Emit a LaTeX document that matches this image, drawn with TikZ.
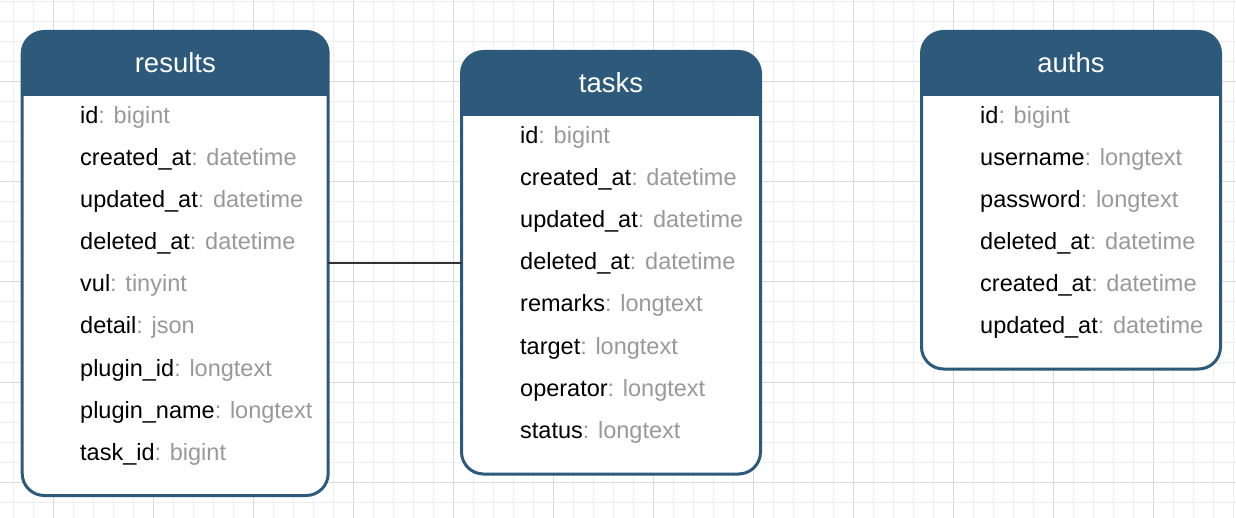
\documentclass[tikz,border=0pt]{standalone}
\usepackage{fontspec}
\setmainfont{Liberation Sans}
\definecolor{hdr}{HTML}{2D5A7B}
\definecolor{typegray}{HTML}{999999}
\definecolor{gridminor}{HTML}{EEEEEE}
\definecolor{gridmajor}{HTML}{DADADA}
\newcommand{\fldtxt}[2]{#1\textcolor{typegray}{: #2}}
\begin{document}
\begin{tikzpicture}[x=1pt,y=-1pt,
  tbl/.style={draw=hdr, line width=3pt, fill=white, rounded corners=22pt, rectangle, inner sep=0pt, outer sep=0pt, anchor=north west},
  fld/.style={anchor=base west, inner sep=0pt, font=\fontsize{23.5}{28}\selectfont},
  ttl/.style={anchor=base, inner sep=0pt, text=white, font=\fontsize{27.5}{32}\selectfont},
  conn/.style={draw=black!80, line width=2pt},
  gmin/.style={draw=gridminor, line width=1pt},
  gmaj/.style={draw=gridmajor, line width=1pt}]
\useasboundingbox (0,0) rectangle (1236,518);
\fill[white] (0,0) rectangle (1236,518);
% grid
\foreach \x in {13,33,...,1233} \draw[gmin] (\x,0) -- (\x,518);
\foreach \y in {2,22,...,502} \draw[gmin] (0,\y) -- (1236,\y);
\foreach \x in {53,153,...,1153} \draw[gmaj] (\x,0) -- (\x,518);
\foreach \y in {82,182,...,482} \draw[gmaj] (0,\y) -- (1236,\y);

% tables
\node[tbl, minimum width=306pt, minimum height=464pt] (results) at (22.2,31.5) {};
\node[tbl, minimum width=299pt, minimum height=422.5pt] (tasks) at (461.5,51.5) {};
\node[tbl, minimum width=299pt, minimum height=337.5pt] (auths) at (921.5,31.5) {};

% headers
\begin{scope}
\clip (0,0) rectangle (1236,96);
\fill[hdr, rounded corners=22pt] (results.north west) rectangle (results.south east);
\fill[hdr, rounded corners=22pt] (auths.north west) rectangle (auths.south east);
\end{scope}
\begin{scope}
\clip (0,0) rectangle (1236,116);
\fill[hdr, rounded corners=22pt] (tasks.north west) rectangle (tasks.south east);
\end{scope}

\node[ttl] (resultsT) at (175.3,73) {results};
\node[ttl] (tasksT) at (611,93) {tasks};
\node[ttl] (authsT) at (1071,73) {auths};

% results fields
\node[fld] (r1) at (80,124) {\fldtxt{id}{bigint}};
\node[fld] (r2) at (80,166) {\fldtxt{created\_at}{datetime}};
\node[fld] (r3) at (80,208) {\fldtxt{updated\_at}{datetime}};
\node[fld] (r4) at (80,250) {\fldtxt{deleted\_at}{datetime}};
\node[fld] (r5) at (80,292) {\fldtxt{vul}{tinyint}};
\node[fld] (r6) at (80,334) {\fldtxt{detail}{json}};
\node[fld] (r7) at (80,376) {\fldtxt{plugin\_id}{longtext}};
\node[fld] (r8) at (80,418) {\fldtxt{plugin\_name}{longtext}};
\node[fld] (r9) at (80,460) {\fldtxt{task\_id}{bigint}};

% tasks fields
\node[fld] (t1) at (520,144) {\fldtxt{id}{bigint}};
\node[fld] (t2) at (520,186) {\fldtxt{created\_at}{datetime}};
\node[fld] (t3) at (520,228) {\fldtxt{updated\_at}{datetime}};
\node[fld] (t4) at (520,270) {\fldtxt{deleted\_at}{datetime}};
\node[fld] (t5) at (520,312) {\fldtxt{remarks}{longtext}};
\node[fld] (t6) at (520,354) {\fldtxt{target}{longtext}};
\node[fld] (t7) at (520,396) {\fldtxt{operator}{longtext}};
\node[fld] (t8) at (520,438) {\fldtxt{status}{longtext}};

% auths fields
\node[fld] (a1) at (980,124) {\fldtxt{id}{bigint}};
\node[fld] (a2) at (980,166) {\fldtxt{username}{longtext}};
\node[fld] (a3) at (980,208) {\fldtxt{password}{longtext}};
\node[fld] (a4) at (980,250) {\fldtxt{deleted\_at}{datetime}};
\node[fld] (a5) at (980,292) {\fldtxt{created\_at}{datetime}};
\node[fld] (a6) at (980,334) {\fldtxt{updated\_at}{datetime}};

% connector
\draw[conn] (results.east) -- (results.east -| tasks.west);
\end{tikzpicture}
\end{document}
